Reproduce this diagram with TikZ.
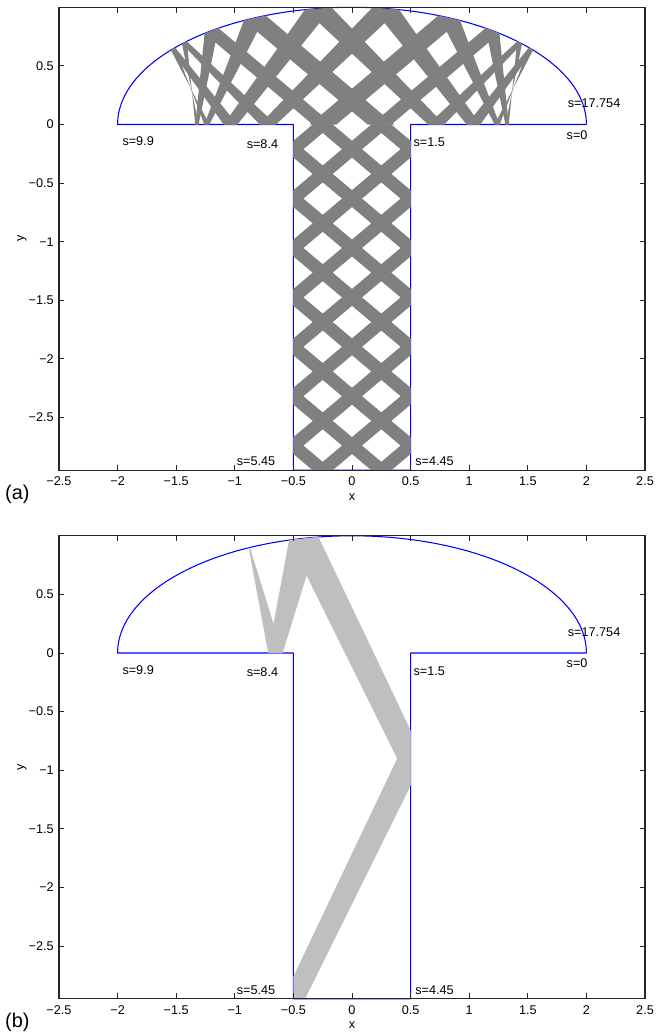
\documentclass[tikz,border=0pt]{standalone}
\usepackage{fontspec}
\setmainfont{Liberation Sans}
\usepackage{xfp}
\usetikzlibrary{positioning}
\definecolor{wallblue}{RGB}{0,0,255}
\definecolor{beamdark}{RGB}{128,128,128}
\definecolor{beamlight}{RGB}{191,191,191}
\definecolor{axisgray}{RGB}{38,38,38}

\def\stembot{-2.95}
\newcount\beamcount

% one reflection of the ray (\rayX,\rayY) moving along (\rayDX,\rayDY)
\newcommand\raystep{%
  \ifnum\fpeval{((\rayY) < -0.000001) || ((abs(\rayY) < 0.000001) && ((\rayDY) < 0) && (abs(\rayX) < 0.5))}=1
    \edef\rayTx{\fpeval{((\rayDX) > 0) ? ((0.5-(\rayX))/(\rayDX)) : (((\rayDX) < 0) ? ((-0.5-(\rayX))/(\rayDX)) : 1000000)}}%
    \edef\rayTy{\fpeval{((\rayDY) < 0) ? ((\stembot-(\rayY))/(\rayDY)) : (-(\rayY)/(\rayDY))}}%
    \ifnum\fpeval{(\rayTx) < (\rayTy)}=1
      \xdef\rayY{\fpeval{(\rayY)+(\rayDY)*(\rayTx)}}%
      \xdef\rayX{\fpeval{((\rayDX) > 0) ? 0.5 : -0.5}}%
      \xdef\rayDX{\fpeval{-(\rayDX)}}%
    \else
      \xdef\rayX{\fpeval{(\rayX)+(\rayDX)*(\rayTy)}}%
      \ifnum\fpeval{(\rayDY) < 0}=1
        \xdef\rayY{\stembot}\xdef\rayDY{\fpeval{-(\rayDY)}}%
      \else
        \xdef\rayY{0}%
      \fi
    \fi
  \else
    \edef\rayCa{\fpeval{(\rayDX)^2/4+(\rayDY)^2}}%
    \edef\rayCb{\fpeval{2*((\rayX)*(\rayDX)/4+(\rayY)*(\rayDY))}}%
    \edef\rayCc{\fpeval{(\rayX)^2/4+(\rayY)^2-1}}%
    \edef\rayTe{\fpeval{(-(\rayCb)+sqrt(max((\rayCb)^2-4*(\rayCa)*(\rayCc),0)))/(2*(\rayCa))}}%
    \edef\rayTz{\fpeval{((\rayDY) < 0) ? (-(\rayY)/(\rayDY)) : 1000000}}%
    \ifnum\fpeval{(\rayTz) < (\rayTe)}=1
      \xdef\rayX{\fpeval{(\rayX)+(\rayDX)*(\rayTz)}}\xdef\rayY{0}%
      \ifnum\fpeval{abs(\rayX) > 0.5}=1 \xdef\rayDY{\fpeval{-(\rayDY)}}\fi
    \else
      \xdef\rayX{\fpeval{(\rayX)+(\rayDX)*(\rayTe)}}%
      \xdef\rayY{\fpeval{(\rayY)+(\rayDY)*(\rayTe)}}%
      \edef\rayNx{\fpeval{(\rayX)/2}}\edef\rayNy{\fpeval{2*(\rayY)}}%
      \edef\rayK{\fpeval{2*((\rayDX)*(\rayNx)+(\rayDY)*(\rayNy))/((\rayNx)^2+(\rayNy)^2)}}%
      \xdef\rayDX{\fpeval{(\rayDX)-(\rayK)*(\rayNx)}}%
      \xdef\rayDY{\fpeval{(\rayDY)-(\rayK)*(\rayNy)}}%
    \fi
  \fi}

\newcommand\setray[4]{\xdef\rayX{#1}\xdef\rayY{#2}\xdef\rayDX{#3}\xdef\rayDY{#4}}
\newcommand\putray[1]{%
  \expandafter\xdef\csname ray#1X\endcsname{\rayX}%
  \expandafter\xdef\csname ray#1Y\endcsname{\rayY}%
  \expandafter\xdef\csname ray#1DX\endcsname{\rayDX}%
  \expandafter\xdef\csname ray#1DY\endcsname{\rayDY}}
\newcommand\getray[1]{%
  \xdef\rayX{\csname ray#1X\endcsname}\xdef\rayY{\csname ray#1Y\endcsname}%
  \xdef\rayDX{\csname ray#1DX\endcsname}\xdef\rayDY{\csname ray#1DY\endcsname}}
\newcommand\raypoint{(\fpeval{round(\rayX,5)},\fpeval{round(\rayY,5)})}

% beam between two edge rays, one filled quad per segment
\newcommand\tracebeam[5]{%
  \gdef\beamquads{}%
  \setray#3\putray{A}\setray#4\putray{B}%
  \beamcount=0
  \loop\ifnum\beamcount<#2
    \advance\beamcount by 1
    \getray{A}\xdef\rayPa{\raypoint}\raystep\xdef\rayQa{\raypoint}\putray{A}%
    \getray{B}\xdef\rayPb{\raypoint}\raystep\xdef\rayQb{\raypoint}\putray{B}%
    \xdef\beamquads{\beamquads\noexpand\fill[#5] \rayPa -- \rayQa -- \rayQb -- \rayPb -- cycle;}%
  \repeat
  \global\expandafter\let\csname #1\endcsname\beamquads}

\tracebeam{beamA}{19}{{0.1647}{0}{7}{-5.9}}{{0.3353}{0}{7}{-5.9}}{beamdarkfill}
\tracebeam{beamB}{5}{{-0.5}{-2.76}{1}{2.1}}{{-0.4}{-2.95}{1}{2.02}}{beamlightfill}

% one mushroom plot with its axes
\newcommand\mushpanel[4]{%
  \begin{scope}[shift={(352,#2)}, x=3.516cm, y=3.516cm]
    \draw[wall] (2,0) -- (0.5,0) -- (0.5,\stembot) -- (-0.5,\stembot) -- (-0.5,0) -- (-2,0)
      arc[start angle=180, end angle=0, x radius=2, y radius=1];
    #3
    \draw[frame] (-2.5,\stembot) rectangle (2.5,1);
    \foreach \t/\l [count=\i] in {-2.5/−2.5, -2/−2, -1.5/−1.5, -1/−1, -0.5/−0.5, 0/0, 0.5/0.5, 1/1, 1.5/1.5, 2/2, 2.5/2.5} {
      \draw[tick] (\t,\stembot) -- ++(0,0.047) (\t,1) -- ++(0,-0.047);
      \node[ticklbl, anchor=base] (#1xt\i) at (\t,-3.082) {\l};
    }
    \foreach \t/\l [count=\i] in {0.5/0.5, 0/0, -0.5/−0.5, -1/−1, -1.5/−1.5, -2/−2, -2.5/−2.5} {
      \draw[tick] (-2.5,\t) -- ++(0.047,0) (2.5,\t) -- ++(-0.047,0);
      \node[ticklbl, anchor=east] (#1yt\i) at (-2.543,\t) {\l};
    }
    \node[slbl] (#1s0) at (1.83,-0.088) {s=0};
    \node[slbl] (#1s17) at (1.84,0.18) {s=17.754};
    \node[slbl] (#1s15) at (0.523,-0.155) {s=1.5};
    \node[slbl] (#1s445) at (0.538,-2.877) {s=4.45};
    \node[slbl] (#1s545) at (-0.985,-2.877) {s=5.45};
    \node[slbl] (#1s84) at (-0.90,-0.166) {s=8.4};
    \node[slbl] (#1s99) at (-1.96,-0.145) {s=9.9};
    \node[axlbl] (#1xl) at (0,-3.178) {x};
    \node[axlbl, rotate=90] (#1yl) at (-2.816,-0.975) {y};
    \node[tag] (#1tag) at (-2.961,-3.153) {#4};
  \end{scope}}

\begin{document}
\begin{tikzpicture}[x=0.03cm, y=-0.03cm,
  wall/.style={draw=wallblue, line width=0.9pt, line join=round},
  frame/.style={draw=axisgray, line width=1pt},
  tick/.style={draw=axisgray, line width=0.8pt},
  beamdarkfill/.style={fill=beamdark},
  beamlightfill/.style={fill=beamlight},
  ticklbl/.style={font=\fontsize{10.8}{12}\selectfont, inner sep=0pt},
  slbl/.style={font=\fontsize{10.8}{12}\selectfont, inner sep=0pt, anchor=west},
  axlbl/.style={font=\fontsize{10.8}{12}\selectfont, inner sep=0pt},
  tag/.style={font=\fontsize{17}{20}\selectfont, inner sep=0pt, anchor=west}
]
\useasboundingbox (0,0) rectangle (667,1034);
\fill[white] (0,0) rectangle (667,1034);

\mushpanel{a}{124.5}{\beamA\begin{scope}[xscale=-1]\beamA\end{scope}}{(a)}
\mushpanel{b}{653}{\beamB\fill[beamlightfill] (-0.5,-2.76) -- (-0.5,\stembot) -- (-0.4,\stembot) -- cycle;}{(b)}

\end{tikzpicture}
\end{document}
